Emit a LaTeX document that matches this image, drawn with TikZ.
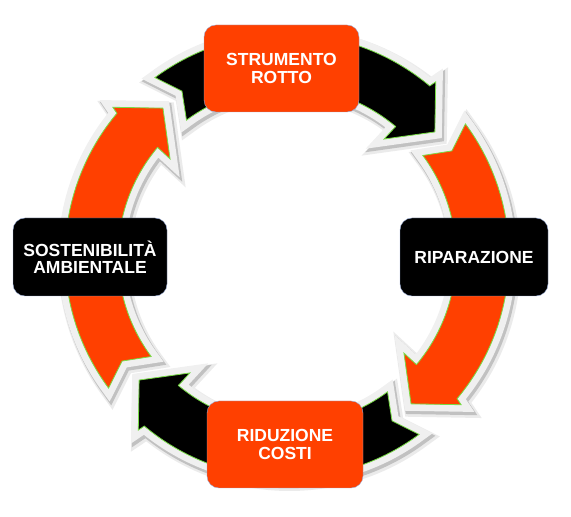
\documentclass[tikz,border=0pt]{standalone}
\usepackage{fontspec}
\setmainfont{Liberation Sans}

\definecolor{cycleorange}{RGB}{255,64,0}
\definecolor{rimgray}{RGB}{240,240,240}
\definecolor{edgegreen}{RGB}{120,220,70}
\definecolor{boxedge}{RGB}{150,170,215}

% one block arrow of the ring, #1 = rotation in degrees
\newcommand{\ringarrow}[1]{%
    ({#1+126.5}:222) arc[start angle={#1+126.5}, end angle={#1+50}, radius=222]
    -- ({#1+49.5}:229) -- ({#1+40}:193) -- ({#1+50.3}:152) -- ({#1+50}:169)
    arc[start angle={#1+50}, end angle={#1+126.5}, radius=169]
    -- ({#1+122.5}:195.5) -- cycle}

\begin{document}
\begin{tikzpicture}[
    x=1pt, y=1pt,
    line join=miter, % sharp corners on the rims
    softshadow/.style={draw=black, fill=black, line width=19, opacity=0.08},
    shadowline/.style={draw=black, fill=black, line width=15.5, opacity=0.18},
    rimline/.style={draw=rimgray, fill=rimgray, line width=14},
    arrowbody/.style={draw=edgegreen, line width=0.8},
    stepbox/.style={rounded corners=12, draw=boxedge, line width=0.4,
        inner sep=0, align=center, text=white,
        font=\fontsize{17.5}{17.5}\selectfont\bfseries},
    orangebox/.style={stepbox, fill=cycleorange, minimum width=155, minimum height=87},
    blackbox/.style={stepbox, fill=black, minimum width=151, minimum height=78},
]
\useasboundingbox (0,0) rectangle (571,517);

% ring of arrows, clockwise
\begin{scope}[shift={(287,261)}]
    \foreach \rot/\col in {0/black, -90/cycleorange, -180/black, -270/cycleorange}{
        \path[softshadow, shift={(2.5,-3.5)}] \ringarrow{\rot};
        \path[shadowline, shift={(1.5,-2.5)}] \ringarrow{\rot};
        \path[rimline] \ringarrow{\rot};
        \path[arrowbody, fill=\col] \ringarrow{\rot};
    }
\end{scope}

% the four steps
\node[orangebox] (rotto) at (281.5,448.5) {STRUMENTO\\ROTTO};
\node[blackbox, minimum width=148] (riparazione) at (474,260) {RIPARAZIONE};
\node[orangebox, minimum width=156] (costi) at (285,72.5) {RIDUZIONE\\COSTI};
\node[blackbox, minimum width=154] (ambiente) at (90,260) {SOSTENIBILIT\`A\\AMBIENTALE};
\end{tikzpicture}
\end{document}
